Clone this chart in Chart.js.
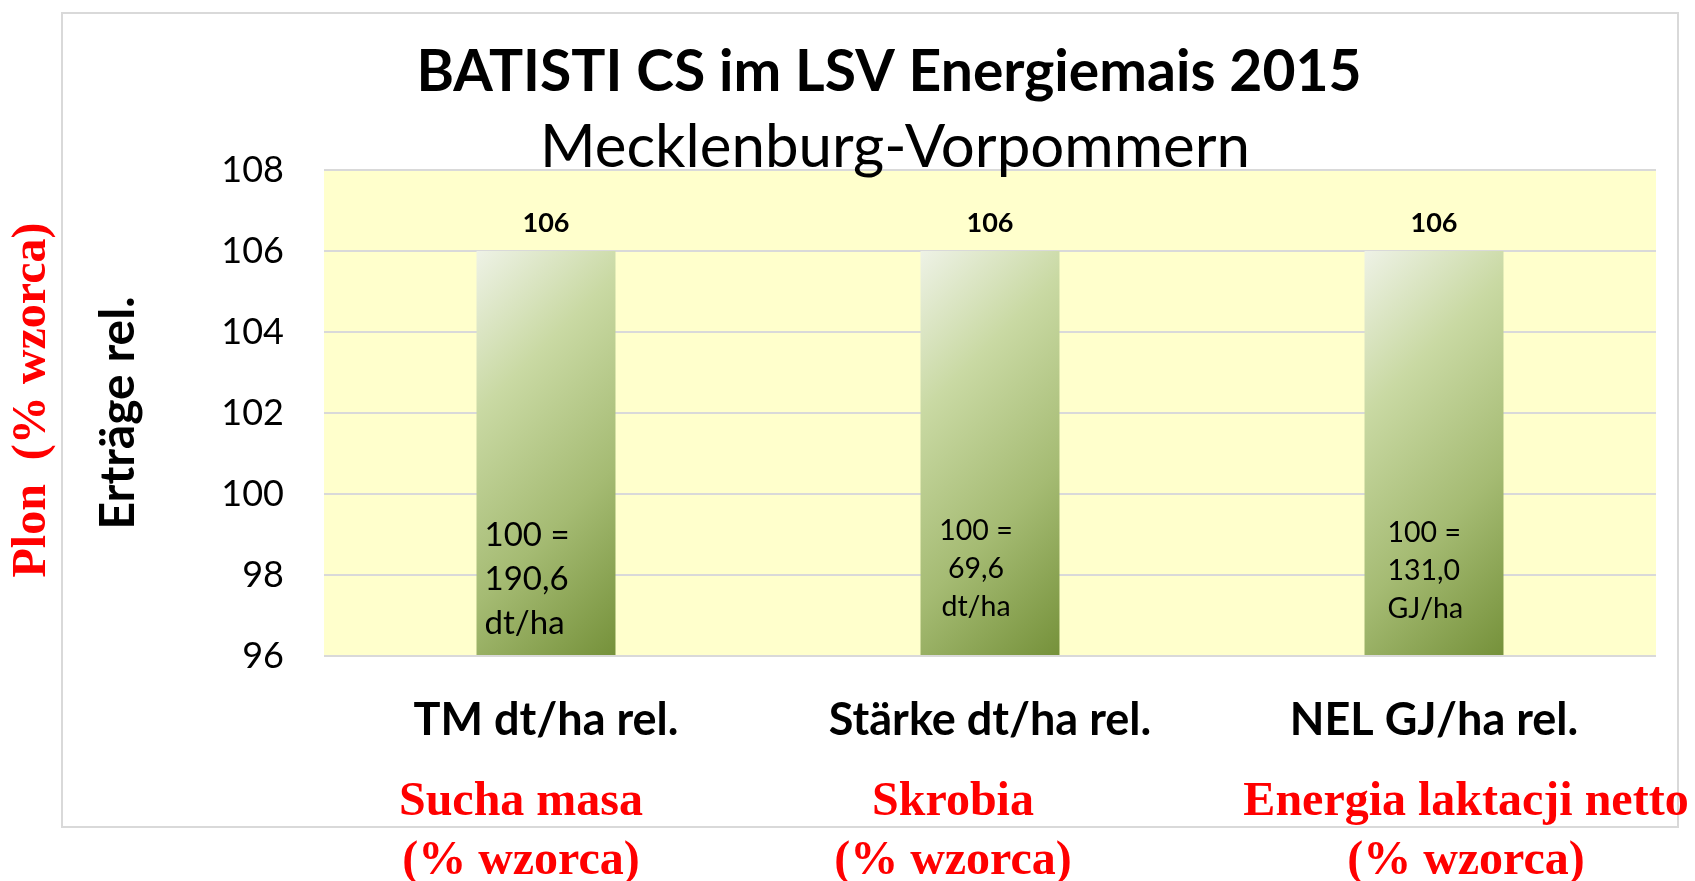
<!DOCTYPE html>
<html>
<head>
<meta charset="utf-8">
<title>BATISTI CS im LSV Energiemais 2015</title>
<script src="https://cdn.jsdelivr.net/npm/chart.js@4/dist/chart.umd.min.js"></script>
<style>
  html, body { margin: 0; padding: 0; background: #ffffff; }
  #wrap { position: relative; width: 1695px; height: 881px; }
</style>
</head>
<body>
<div id="wrap"><canvas id="chartErtraege"></canvas></div>
<script>
// data
var categories = ['TM dt/ha rel.', 'Stärke dt/ha rel.', 'NEL GJ/ha rel.'];
var values = [106, 106, 106];
var valueLabels = ['106', '106', '106'];
var noteLines = [
    ['100 =', '190,6', 'dt/ha'],
    ['100 =', '69,6', 'dt/ha'],
    ['100 =', '131,0', 'GJ/ha']
];
var polishLabels = [
    ['Sucha masa', '(% wzorca)'],
    ['Skrobia', '(% wzorca)'],
    ['Energia laktacji netto', '(% wzorca)']
];
var yMin = 96, yMax = 108, yStep = 2;
var chartTitle = 'BATISTI CS im LSV Energiemais 2015';
var chartSubtitle = 'Mecklenburg-Vorpommern';
var yTitle = 'Erträge rel.';
var yTitlePl = 'Plon  (% wzorca)';

var barPct = 0.313;

function barGradient(context) {
    var chart = context.chart;
    var xs = chart.scales.x, ys = chart.scales.y;
    if (!chart.chartArea || !xs || !ys) return '#9bbb59';
    var i = context.dataIndex;
    var w = (xs.width / categories.length) * barPct;
    var left = xs.getPixelForValue(i) - w / 2;
    var top = ys.getPixelForValue(values[i]);
    var bottom = ys.getPixelForValue(yMin);
    var d = (w + (bottom - top)) / 2;
    var g = chart.ctx.createLinearGradient(left, top, left + d, top + d);
    g.addColorStop(0, '#eef2e6');
    g.addColorStop(0.3, '#c9d9a3');
    g.addColorStop(0.65, '#a5bb73');
    g.addColorStop(1, '#75913a');
    return g;
}

// background, outer frame, titles and extra labels
var decorPlugin = {
    id: 'decor',
    beforeDraw: function(chart) {
        var ctx = chart.ctx, a = chart.chartArea;
        ctx.save();
        ctx.fillStyle = '#ffffff';
        ctx.fillRect(0, 0, chart.width, chart.height);
        ctx.strokeStyle = '#d9d9d9';
        ctx.lineWidth = 2;
        ctx.strokeRect(62, 13, 1616, 814);
        ctx.fillStyle = '#ffffcc';
        ctx.fillRect(a.left, a.top, a.right - a.left, a.bottom - a.top);
        ctx.restore();
    },
    afterDatasetsDraw: function(chart) {
        var ctx = chart.ctx;
        var xs = chart.scales.x, ys = chart.scales.y;
        var w = (xs.width / categories.length) * barPct;
        var styles = [
            { align: 'left', dx: 8, size: 33, gap: 44, last: 33 },
            { align: 'center', dx: -14, size: 28.5, gap: 38, last: 49 },
            { align: 'left', dx: 23, size: 28.5, gap: 38, last: 47 }
        ];
        ctx.save();
        ctx.fillStyle = '#000000';
        ctx.textBaseline = 'middle';
        for (var i = 0; i < categories.length; i++) {
            var cx = xs.getPixelForValue(i);
            // value above bar
            ctx.font = 'bold 27px Lato';
            ctx.textAlign = 'center';
            ctx.fillText(valueLabels[i], cx, ys.getPixelForValue(values[i]) - 28);
            // note inside bar
            var s = styles[i];
            ctx.font = s.size + 'px Lato';
            ctx.textAlign = s.align;
            var x = s.align === 'left' ? cx - w / 2 + s.dx : cx + s.dx;
            var lines = noteLines[i];
            for (var j = 0; j < lines.length; j++) {
                var y = ys.getPixelForValue(yMin) - s.last - (lines.length - 1 - j) * s.gap;
                ctx.fillText(lines[j], x, y);
            }
        }
        ctx.restore();
    },
    afterDraw: function(chart) {
        var ctx = chart.ctx;
        var xs = chart.scales.x;
        ctx.save();
        ctx.textAlign = 'center';
        ctx.textBaseline = 'alphabetic';
        ctx.fillStyle = '#000000';
        ctx.font = 'bold 57px Lato';
        ctx.fillText(chartTitle, 889, 91);
        ctx.font = '60px Lato';
        ctx.fillText(chartSubtitle, 895, 167);

        // polish labels under the categories
        ctx.fillStyle = '#ff0000';
        ctx.font = 'bold 48px "Liberation Serif"';
        ctx.textBaseline = 'middle';
        var offs = [-25, -37, 32];
        for (var i = 0; i < categories.length; i++) {
            var cx = xs.getPixelForValue(i) + offs[i];
            ctx.fillText(polishLabels[i][0], cx, 803);
            ctx.fillText(polishLabels[i][1], cx, 862);
        }
        // rotated polish axis title
        ctx.translate(33, 400);
        ctx.rotate(-Math.PI / 2);
        ctx.font = 'bold 48px "Liberation Serif"';
        ctx.fillText(yTitlePl, 0, 0);
        ctx.restore();
    }
};

var ctx = document.getElementById('chartErtraege');
var myBarChart = new Chart(ctx, {
    type: 'bar',
    data: {
        labels: categories,
        datasets: [{
            label: yTitle,
            data: values,
            base: yMin,
            backgroundColor: barGradient,
            borderWidth: 0,
            barPercentage: barPct,
            categoryPercentage: 1
        }]
    },
    options: {
        responsive: true,
        maintainAspectRatio: false,
        animation: false,
        layout: {
            padding: { top: 170, right: 39, left: 0, bottom: 0 }
        },
        plugins: {
            legend: { display: false },
            title: { display: false },
            tooltip: { enabled: false }
        },
        scales: {
            x: {
                grid: { display: false, drawTicks: false },
                border: { display: false },
                ticks: {
                    color: '#000000',
                    padding: 37,
                    maxRotation: 0,
                    font: { family: 'Lato', size: 45, weight: 'bold' }
                },
                afterFit: function(scale) { scale.height = 225; }
            },
            y: {
                min: yMin,
                max: yMax,
                grid: { color: '#d9d9d9', lineWidth: 2, drawTicks: false },
                border: { display: false },
                ticks: {
                    stepSize: yStep,
                    color: '#000000',
                    padding: 40,
                    font: { family: 'Lato', size: 36 }
                },
                title: {
                    display: true,
                    text: yTitle,
                    color: '#000000',
                    font: { family: 'Lato', size: 48, weight: 'bold' },
                    padding: { top: 90, bottom: 0 }
                },
                afterFit: function(scale) { scale.width = 324; }
            }
        }
    },
    plugins: [decorPlugin]
});
</script>
</body>
</html>
